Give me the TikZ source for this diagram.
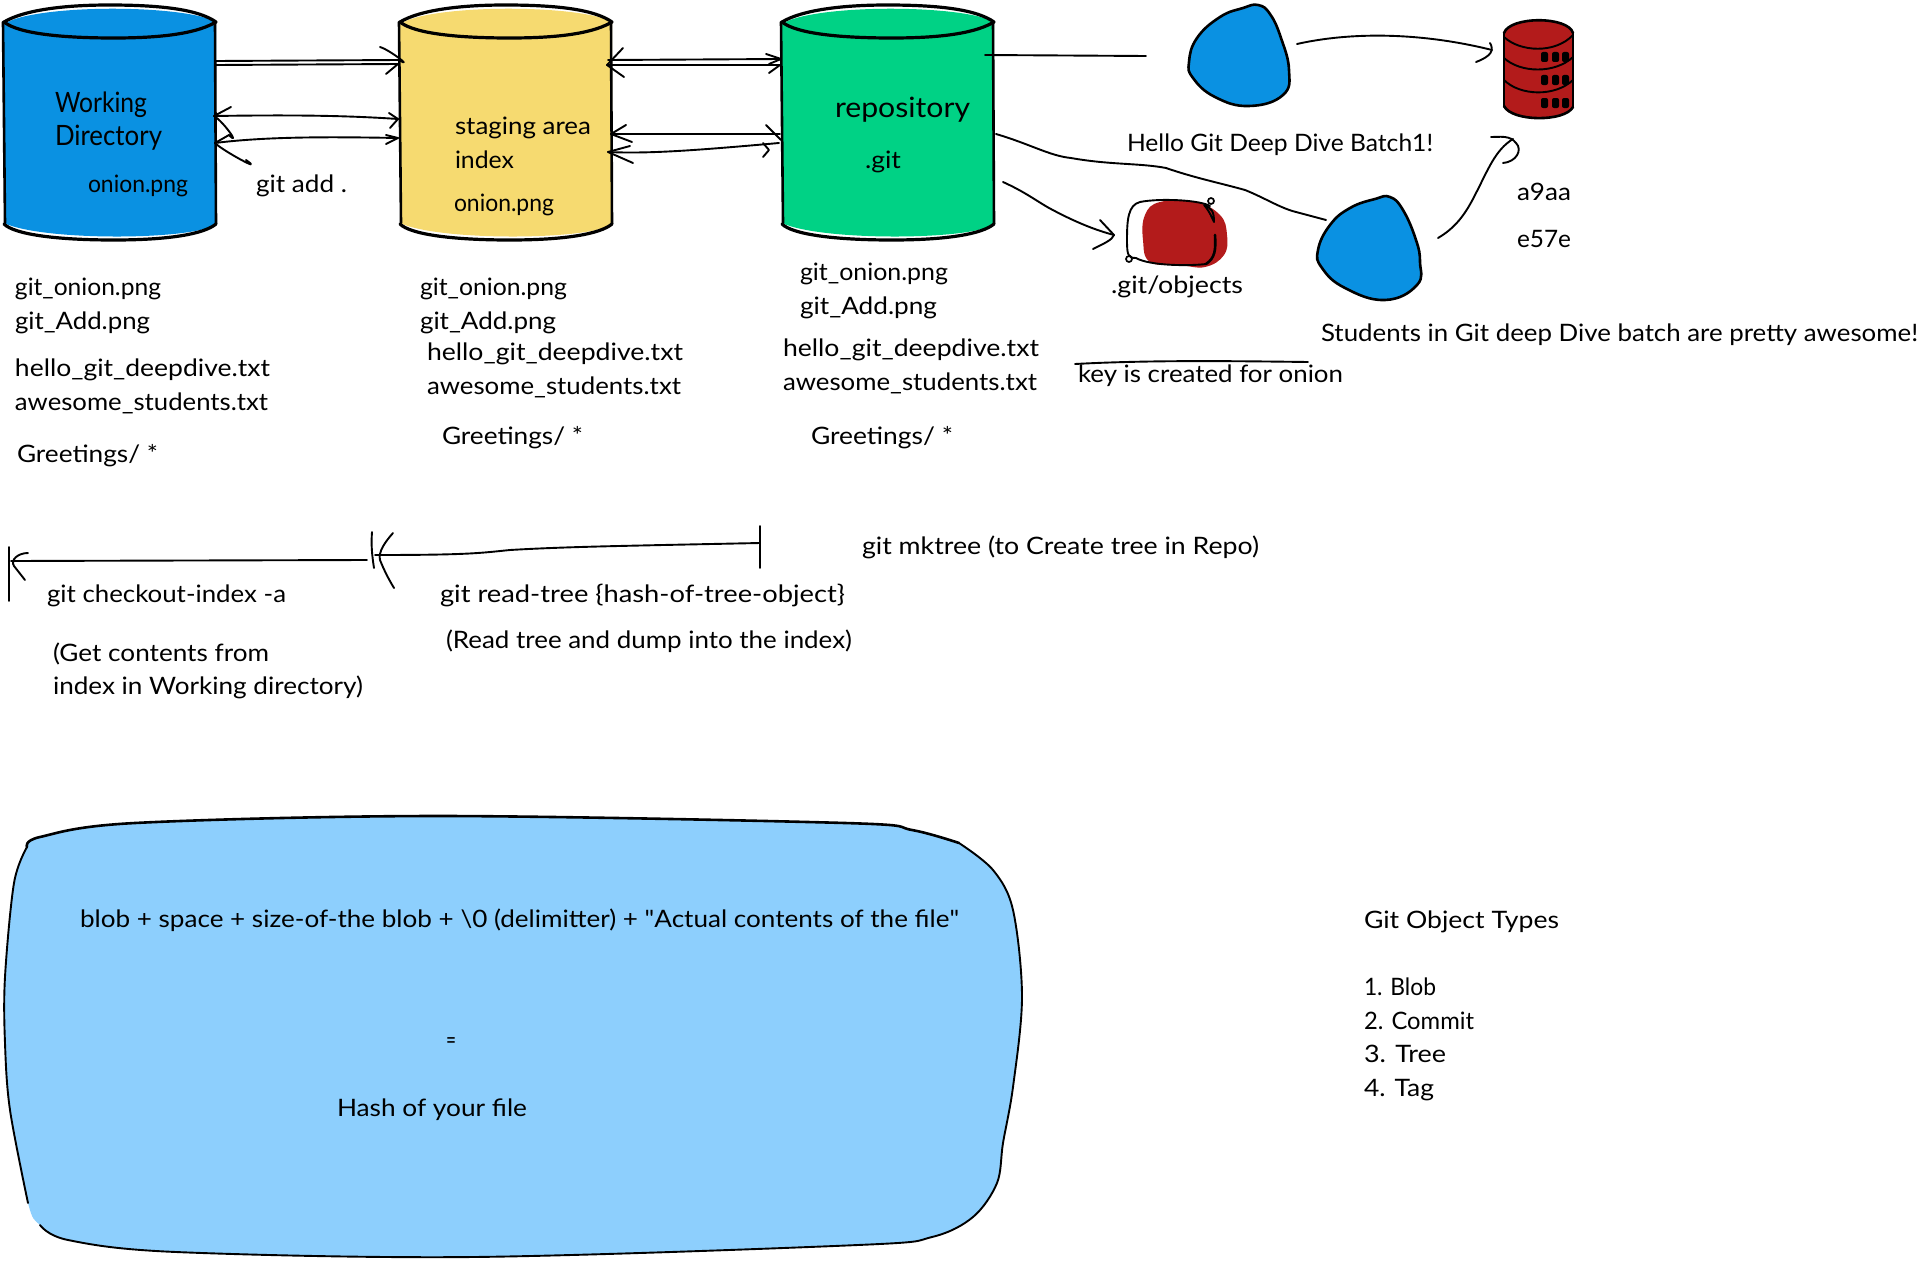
\documentclass[tikz,border=0pt]{standalone}
\usepackage{graphicx}
\usepackage{fontspec}
\setmainfont{Lato}
\newfontfamily\plainq{Lato}
\definecolor{cblue}{HTML}{0A91E2}
\definecolor{cyel}{HTML}{F6DA70}
\definecolor{cgrn}{HTML}{00D285}
\definecolor{cred}{HTML}{B31B1B}
\definecolor{clight}{HTML}{8DCFFD}
\tikzset{
  lbl/.style={anchor=base west,inner sep=0pt,outer sep=0pt,font=\fontsize{24}{28}\selectfont,text=black},
  big/.style={font=\fontsize{28}{32}\selectfont},
  ln/.style={draw=black,line width=1.9pt,line cap=round,line join=round},
  thick line/.style={draw=black,line width=3.2pt,line cap=round,line join=round},
  blob line/.style={draw=black,line width=2.6pt,line cap=round,line join=round},
  side line/.style={draw=black,line width=2.6pt,line cap=round,line join=round},
  thin line/.style={draw=black,line width=1.7pt,line cap=round,line join=round}
}
\newcommand{\tl}[6][]{\node[lbl,#1] (#2) at (#3,#4) {\resizebox{#5pt}{\height}{#6}};}
\newcommand{\cyl}[2]{%
  \begin{scope}[shift={(#1,0)}]
    \fill[#2] (0,24) .. controls (30,4) and (180,4) .. (212,22) -- (212,223)
       .. controls (200,240) and (40,242) .. (0,223) -- cycle;
    \draw[side line] (-1,22) -- (1,223);
    \draw[side line] (211,22) -- (212,224);
    \draw[thick line] (0,22) .. controls (20,10) and (60,5) .. (105,5) .. controls (160,5) and (195,10) .. (212,22)
       .. controls (195,32) and (165,38) .. (110,38) .. controls (60,38) and (15,34) .. (0,22);
    \draw[thick line] (0,224) .. controls (10,234) and (50,240) .. (110,240) .. controls (165,240) and (200,234) .. (212,224);
  \end{scope}}
\begin{document}
\begin{tikzpicture}[x=1pt,y=-1pt]
\useasboundingbox (0,0) rectangle (1919,1263);
\fill[white] (0,0) rectangle (1919,1263);

% cylinders
\cyl{4}{cblue}
\cyl{400}{cyel}
\cyl{782}{cgrn}

% coordinates of connector ends
\coordinate (a1s) at (216,61);   \coordinate (a1t) at (399,60);
\coordinate (a2s) at (216,65);   \coordinate (a2t) at (398,64);
\coordinate (a3s) at (214,116);  \coordinate (a3t) at (398,119);
\coordinate (a4s) at (215,143);  \coordinate (a4t) at (398,138);
\coordinate (a5s) at (608,60);   \coordinate (a5t) at (781,59);
\coordinate (a6s) at (607,65);   \coordinate (a6t) at (780,65);
\coordinate (a7s) at (611,134);  \coordinate (a7t) at (780,134);
\coordinate (a8s) at (608,152);  \coordinate (a8t) at (779,143);
\coordinate (r1s) at (985,55);   \coordinate (r1t) at (1146,56);
\coordinate (b1s) at (1297,44);  \coordinate (b1t) at (1492,50);
\coordinate (r2s) at (996,134);  \coordinate (r2t) at (1326,220);
\coordinate (r3s) at (1003,182); \coordinate (r3t) at (1114,235);
\coordinate (b2s) at (1438,238); \coordinate (b2t) at (1513,139);
\coordinate (l1s) at (367,560);  \coordinate (l1t) at (11,561);
\coordinate (l2s) at (760,543);  \coordinate (l2t) at (375,555);

% connectors between cylinders
\draw[ln] (a1s) -- (a1t);
\draw[ln] (a1t) ++(-19,-13) .. controls +(10,3) and +(15,9) .. (a1t);
\draw[ln] (a2s) -- (a2t) -- ++(-12,10);
\draw[ln] (a3s) .. controls (280,115) and (340,115) .. (a3t);
\draw[ln] (a3t) ++(-9,-6) -- (a3t) -- ++(-8,9);
\draw[ln] (a3s) ++(17,-9) -- (a3s) .. controls +(10,6) and +(12,12) .. ++(15,19);
\draw[ln] (a4s) .. controls (270,136) and (340,137) .. (a4t);
\draw[ln] (a4t) ++(-12,-3) -- (a4t) -- ++(-12,6);
\draw[ln] (a4s) ++(14,-8) -- (a4s) .. controls +(8,8) and +(20,14) .. ++(31,17);
\draw[ln] (a5s) -- (a5t);
\draw[ln] (a5t) ++(-15,-5) -- (a5t) -- ++(-12,5);
\draw[ln] (a6s) -- (a6t) -- ++(-11,8);
\draw[ln] (a5s) ++(15,-12) -- (a6s) -- ++(17,12);
\draw[ln] (a7s) -- (a7t);
\draw[ln] (a7s) ++(15,-9) -- (a7s) -- ++(21,8);
\draw[ln] (a7t) ++(-14,-9) -- ++(15,15);
\draw[ln] (a8s) .. controls (650,154) and (700,150) .. (a8t);
\draw[ln] (a8s) ++(22,-6) -- (a8s) -- ++(25,11);
\draw[ln] (763,143) -- (769,150) -- (763,157);

% connectors on the right
\draw[ln] (r1s) -- (r1t);
\draw[ln] (b1s) .. controls (1350,32) and (1420,32) .. (b1t);
\draw[ln] (1490,43) .. controls (1494,50) and (1492,56) .. (1476,62);
\draw[ln] (r2s) .. controls (1030,144) and (1050,156) .. (1071,158) .. controls (1110,165) and (1140,163) .. (1166,168)
   .. controls (1195,178) and (1220,183) .. (1245,190) .. controls (1265,198) and (1280,208) .. (1296,212) -- (r2t);
\draw[ln] (r3s) .. controls (1025,192) and (1035,200) .. (1049,208) .. controls (1075,222) and (1095,230) .. (r3t);
\draw[ln] (1100,220) -- (r3t) .. controls (1112,240) and (1105,243) .. (1093,249);
\draw[ln] (b2s) .. controls (1455,228) and (1465,215) .. (1475,195) .. controls (1488,170) and (1495,150) .. (b2t);
\draw[ln] (1491,137) .. controls (1500,137) and (1510,135) .. (1516,143) .. controls (1523,150) and (1516,162) .. (1503,163);

% blobs
\path[fill=cblue,blob line] plot[smooth cycle,tension=0.75] coordinates {(1243,8) (1258,5) (1270,14) (1281,38) (1289,70) (1283,95) (1249,106) (1215,97) (1193,78) (1189,62) (1197,38) (1220,17)};
\path[fill=cblue,blob line] plot[smooth cycle,tension=0.75] coordinates {(1375,199) (1390,197) (1403,210) (1416,240) (1420,262) (1417,285) (1385,300) (1345,288) (1322,268) (1318,250) (1330,225) (1350,208)};

% database
\fill[cred] (1504,33) .. controls (1510,16) and (1568,16) .. (1573,33) -- (1573,108) .. controls (1565,122) and (1512,122) .. (1504,108) -- cycle;
\draw[blob line] (1504,33) .. controls (1510,16) and (1568,16) .. (1573,33);
\draw[ln] (1504,37) .. controls (1520,52) and (1555,54) .. (1573,35);
\draw[ln] (1504,58) .. controls (1520,73) and (1555,74) .. (1573,57);
\draw[ln] (1504,80) .. controls (1520,96) and (1555,97) .. (1573,80);
\draw[blob line] (1504,106) .. controls (1512,122) and (1565,122) .. (1573,107);
\draw[ln] (1504,33) -- (1504,107);
\draw[ln] (1573,33) -- (1573,107);
\foreach \yy in {57,80,103} \foreach \xx in {1545,1556,1566}
  \fill[black,rounded corners=2pt] (\xx-4,\yy-5) rectangle (\xx+3,\yy+5);

% objects icon
\path[fill=cred] plot[smooth cycle,tension=0.7] coordinates {(1160,202) (1195,202) (1220,215) (1227,235) (1224,255) (1205,267) (1180,265) (1150,262) (1143,240) (1145,215)};
\draw[ln] (1210,206) .. controls (1200,200) and (1160,198) .. (1140,202) .. controls (1128,205) and (1127,220) .. (1127,240) .. controls (1127,255) and (1128,258) .. (1136,258) .. controls (1150,266) and (1190,266) .. (1206,264);
\draw[blob line] (1215,235) .. controls (1216,250) and (1215,258) .. (1206,264);
\draw[ln] (1204,205) .. controls (1210,212) and (1212,218) .. (1214,222) .. controls (1214,212) and (1212,208) .. (1204,205);
\draw[thin line] (1211,201) circle (3);
\draw[thin line] (1129,259) circle (3);

% tree lines
\draw[ln] (l1s) -- (l1t);
\draw[ln] (9,547) -- (9,601);
\draw[ln] (28,553) .. controls (18,553) and (10,560) .. (14,566) -- (25,580);
\draw[ln] (l2s) -- (663,545) .. controls (620,546) and (560,547) .. (510,550) .. controls (480,553) and (470,555) .. (l2t);
\draw[ln] (760,526) -- (760,568);
\draw[ln] (372,532) .. controls (371,545) and (372,555) .. (374,568);
\draw[ln] (393,533) .. controls (385,542) and (378,552) .. (380,560) .. controls (384,570) and (388,578) .. (394,588);
% strike over the key text
\coordinate (ks) at (1075,364); \coordinate (ke) at (1308,362);
\draw[ln] (ks) .. controls (1150,360) and (1230,361) .. (ke);

% large rounded shape
\path[fill=clight] plot[smooth cycle,tension=0.55] coordinates {(40,837) (135,823) (439,816) (845,823) (912,830) (959,843) (993,870) (1013,910) (1022,997) (1013,1087) (1003,1143) (997,1183) (973,1217) (932,1237) (858,1245) (473,1257) (176,1252) (68,1240) (40,1225) (28,1203) (10,1110) (5,1043) (5,977) (14,883) (27,847)};
\draw[blob line] plot[smooth,tension=0.55] coordinates {(27,847) (40,837) (135,823) (439,816) (845,823) (912,830) (959,843)};
\draw[ln] plot[smooth,tension=0.55] coordinates {(959,843) (993,870) (1013,910) (1022,997) (1013,1087) (1003,1143) (997,1183) (973,1217) (932,1237) (858,1245) (473,1257) (176,1252) (68,1240) (40,1225)};
\draw[ln] plot[smooth,tension=0.55] coordinates {(28,1203) (10,1110) (5,1043) (5,977) (14,883) (27,847)};

% texts
\tl[big]{t1}{55}{112}{92}{Working}
\tl[big]{t2}{55}{145}{107}{Directory}
\tl{t3}{88}{192}{100}{onion.png}
\tl{t4}{256}{192}{91}{git add .}
\tl{t5}{455}{134}{136}{staging area}
\tl{t6}{455}{168}{59}{index}
\tl{t7}{454}{211}{100}{onion.png}
\tl[big]{t8}{835}{117}{135}{repository}
\tl{t9}{865}{168}{36}{.git}
\tl{t10}{1127}{151}{306}{Hello Git Deep Dive Batch1!}
\tl{t11}{1517}{200}{54}{a9aa}
\tl{t12}{1517}{247}{54}{e57e}
\tl{t13}{1111}{293}{132}{.git/objects}
\tl{t14}{1321}{341}{597}{Students in Git deep Dive batch are pretty awesome!}
\tl{t15}{1078}{382}{265}{key is created for onion}

\tl{c1a}{15}{295}{146}{git\_onion.png}
\tl{c1b}{15}{329}{135}{git\_Add.png}
\tl{c1c}{15}{376}{255}{hello\_git\_deepdive.txt}
\tl{c1d}{15}{410}{253}{awesome\_students.txt}
\tl{c1e}{17}{462}{141}{Greetings/ *}
\tl{c2a}{420}{295}{147}{git\_onion.png}
\tl{c2b}{420}{329}{136}{git\_Add.png}
\tl{c2c}{427}{360}{256}{hello\_git\_deepdive.txt}
\tl{c2d}{427}{394}{254}{awesome\_students.txt}
\tl{c2e}{442}{444}{141}{Greetings/ *}
\tl{c3a}{800}{280}{148}{git\_onion.png}
\tl{c3b}{800}{314}{137}{git\_Add.png}
\tl{c3c}{783}{356}{256}{hello\_git\_deepdive.txt}
\tl{c3d}{783}{390}{254}{awesome\_students.txt}
\tl{c3e}{811}{444}{142}{Greetings/ *}

\tl{d1}{47}{602}{239}{git checkout-index -a}
\tl{d2}{53}{661}{216}{(Get contents from}
\tl{d3}{53}{694}{310}{index in Working directory)}
\tl{d4}{440}{602}{405}{git read-tree \{hash-of-tree-object\}}
\tl{d5}{446}{648}{406}{(Read tree and dump into the index)}
\tl{d6}{862}{554}{397}{git mktree (to Create tree in Repo)}

\tl{e1}{80}{927}{879}{blob + space + size-of-the blob + \textbackslash 0 (delimitter) + {\plainq"}Actual contents of the file{\plainq"}}
\tl{e2}{446}{1048}{10}{=}
\tl{e3}{337}{1116}{190}{Hash of your file}

\tl{f1}{1364}{928}{195}{Git Object Types}
\tl{f2}{1364}{995}{72}{1. Blob}
\tl{f3}{1364}{1029}{110}{2. Commit}
\tl{f4}{1364}{1062}{82}{3. Tree}
\tl{f5}{1364}{1096}{70}{4. Tag}
\end{tikzpicture}
\end{document}
